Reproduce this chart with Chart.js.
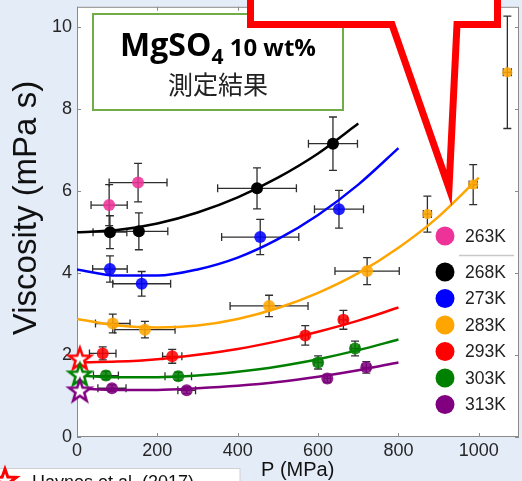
<!DOCTYPE html>
<html>
<head>
<meta charset="utf-8">
<script src="https://cdn.jsdelivr.net/npm/chart.js"></script>
<style>
  html, body { margin: 0; padding: 0; background: #e4ecf8; overflow: hidden; }
</style>
</head>
<body>
<canvas id="chart" width="522" height="481"></canvas>
<script>
"use strict"
// measured points, one row per temperature
let temps = ['263K', '268K', '273K', '283K', '293K', '303K', '313K'];
let colors = ['#ee3398', '#000000', '#0000ff', '#ffa500', '#ff0000', '#008000', '#800080'];
let pressure = [
    [80, 152],
    [82, 154, 448, 637],
    [82, 161, 456, 652],
    [89, 169, 478, 722, 872, 986, 1071],
    [64, 237, 568, 663],
    [72, 252, 600, 692],
    [87, 273, 623, 720]
];
let viscosity = [
    [5.66, 6.21],
    [5.0, 5.02, 6.07, 7.16],
    [4.1, 3.74, 4.88, 5.56],
    [2.77, 2.62, 3.2, 4.05, 5.44, 6.16, 8.9],
    [2.04, 1.97, 2.48, 2.86],
    [1.5, 1.48, 1.82, 2.16],
    [1.19, 1.14, 1.43, 1.7]
];
let pressureErr = [
    [45, 72],
    [42, 72, 98, 61],
    [43, 72, 96, 61],
    [43, 75, 97, 80, 10, 10, 10],
    [33, 24, 8, 10],
    [31, 33, 10, 10],
    [35, 22, 8, 10]
];
let viscosityErr = [
    [0.5, 0.47],
    [0.4, 0.45, 0.5, 0.65],
    [0.32, 0.3, 0.43, 0.46],
    [0.23, 0.2, 0.26, 0.33, 0.44, 0.49, 1.37],
    [0.16, 0.17, 0.24, 0.23],
    [0.1, 0.1, 0.16, 0.18],
    [0.08, 0.08, 0.1, 0.14]
];
// fitted curves (no fit for 263K)
let fitPressure = [
    null,
    [0, 100, 200, 300, 400, 500, 600, 700],
    [0, 100, 200, 300, 400, 500, 600, 700, 800],
    [0, 100, 200, 300, 400, 500, 600, 700, 800, 900, 1000],
    [0, 100, 200, 300, 400, 500, 600, 700, 800],
    [0, 100, 200, 300, 400, 500, 600, 700, 800],
    [0, 100, 200, 300, 400, 500, 600, 700, 800]
];
let fitViscosity = [
    null,
    [5.0, 5.05, 5.21, 5.48, 5.85, 6.33, 6.92, 7.65],
    [4.09, 3.94, 3.94, 4.09, 4.38, 4.83, 5.42, 6.16, 7.05],
    [2.88, 2.72, 2.67, 2.72, 2.88, 3.15, 3.52, 4.0, 4.62, 5.38, 6.33],
    [1.82, 1.84, 1.9, 2.01, 2.15, 2.34, 2.57, 2.84, 3.16],
    [1.5, 1.46, 1.46, 1.5, 1.59, 1.72, 1.9, 2.12, 2.38],
    [1.19, 1.15, 1.15, 1.19, 1.25, 1.34, 1.47, 1.63, 1.82]
];
// Haynes et al. (2017) reference values at ~0 MPa
let refPressure = 7;
let refViscosity = [1.92, 1.53, 1.14];
let refColors = ['#ff0000', '#008000', '#800080'];
let xTicks = [0, 200, 400, 600, 800, 1000];
let yTicks = [0, 2, 4, 6, 8, 10];

function starPath(c, cx, cy, R, r) {
    c.beginPath();
    for (let k = 0; k < 10; k++) {
        let rad = k % 2 ? r : R;
        let a = -Math.PI / 2 + k * Math.PI / 5;
        c.lineTo(cx + rad * Math.cos(a), cy + rad * Math.sin(a));
    }
    c.closePath();
}
function starImage(color) {
    let cv = document.createElement('canvas');
    cv.width = 30; cv.height = 30;
    let c = cv.getContext('2d');
    starPath(c, 15, 16, 11.5, 4.6);
    c.fillStyle = '#fff';
    c.fill();
    c.lineWidth = 2.5;
    c.strokeStyle = color;
    c.stroke();
    return cv;
}

let datasets = [];
for (let i = 0; i < temps.length; i++) {
    if (fitViscosity[i]) {
        datasets.push({
            type: 'line',
            label: temps[i] + ' fit',
            data: fitPressure[i].map((p, k) => ({ x: p, y: fitViscosity[i][k] })),
            borderColor: colors[i],
            borderWidth: 2.5,
            pointRadius: 0,
            showLine: true,
            fill: false,
            cubicInterpolationMode: 'monotone',
            order: 3
        });
    }
    datasets.push({
        label: temps[i],
        data: pressure[i].map((p, k) => ({ x: p, y: viscosity[i][k] })),
        xErr: pressureErr[i],
        yErr: viscosityErr[i],
        backgroundColor: i == 1 ? colors[i] : colors[i] + 'dd',
        borderWidth: 0,
        pointRadius: ctx => (ctx.raw && ctx.raw.x > 850) ? 5 : 6,
        order: 2
    });
}
datasets.push({
    label: 'Haynes et al. (2017)',
    data: refViscosity.map(v => ({ x: refPressure, y: v })),
    pointStyle: refColors.map(starImage),
    pointRadius: 12,
    clip: false,
    order: 1
});

let background = {
    id: 'background',
    beforeDraw(chart) {
        let { ctx, chartArea: a } = chart;
        ctx.save();
        ctx.fillStyle = '#e4ecf8';
        ctx.fillRect(0, 0, chart.width, chart.height);
        ctx.fillStyle = '#ffffff';
        ctx.fillRect(a.left, a.top, a.right - a.left, a.bottom - a.top);
        ctx.restore();
    }
};

let errorBars = {
    id: 'errorBars',
    beforeDatasetsDraw(chart) {
        let { ctx, chartArea: a } = chart;
        let xs = chart.scales.x, ys = chart.scales.y;
        ctx.save();
        // frame with inward ticks
        ctx.strokeStyle = '#8a8a8a';
        ctx.lineWidth = 1;
        ctx.beginPath();
        xTicks.forEach(v => {
            let px = Math.round(xs.getPixelForValue(v)) + 0.5;
            ctx.moveTo(px, a.bottom); ctx.lineTo(px, a.bottom - 4);
            ctx.moveTo(px, a.top); ctx.lineTo(px, a.top + 4);
        });
        yTicks.forEach(v => {
            let py = Math.round(ys.getPixelForValue(v)) + 0.5;
            ctx.moveTo(a.left, py); ctx.lineTo(a.left + 4, py);
            ctx.moveTo(a.right, py); ctx.lineTo(a.right - 4, py);
        });
        ctx.stroke();
        ctx.strokeRect(a.left + 0.5, a.top + 0.5, a.right - a.left - 1, a.bottom - a.top - 1);

        ctx.strokeStyle = '#2e2e2e';
        ctx.lineWidth = 1.3;
        chart.data.datasets.forEach(ds => {
            if (!ds.yErr) return;
            ds.data.forEach((d, j) => {
                let cx = xs.getPixelForValue(d.x), cy = ys.getPixelForValue(d.y);
                let x0 = xs.getPixelForValue(d.x - ds.xErr[j]), x1 = xs.getPixelForValue(d.x + ds.xErr[j]);
                let y0 = ys.getPixelForValue(d.y - ds.yErr[j]), y1 = ys.getPixelForValue(d.y + ds.yErr[j]);
                ctx.beginPath();
                ctx.moveTo(x0, cy); ctx.lineTo(x1, cy);
                ctx.moveTo(x0, cy - 4); ctx.lineTo(x0, cy + 4);
                ctx.moveTo(x1, cy - 4); ctx.lineTo(x1, cy + 4);
                ctx.moveTo(cx, y0); ctx.lineTo(cx, y1);
                ctx.moveTo(cx - 4, y0); ctx.lineTo(cx + 4, y0);
                ctx.moveTo(cx - 4, y1); ctx.lineTo(cx + 4, y1);
                ctx.stroke();
            });
        });
        ctx.restore();
    }
};

let notes = {
    id: 'notes',
    afterDraw(chart) {
        let ctx = chart.ctx;
        ctx.save();
        // axis titles
        ctx.fillStyle = '#111';
        ctx.font = '33px "Liberation Sans"';
        ctx.textAlign = 'center';
        ctx.textBaseline = 'alphabetic';
        ctx.save();
        ctx.translate(36, 208);
        ctx.rotate(-Math.PI / 2);
        ctx.fillText('Viscosity (mPa s)', 0, 0);
        ctx.restore();
        ctx.font = '20px "Liberation Sans"';
        ctx.textAlign = 'left';
        ctx.fillText('P (MPa)', 261, 476);

        // green title box
        ctx.fillStyle = '#fff';
        ctx.fillRect(93, 14, 250, 96);
        ctx.strokeStyle = '#70ad47';
        ctx.lineWidth = 2;
        ctx.strokeRect(93, 14, 250, 96);
        ctx.fillStyle = '#000';
        let f1 = 'bold 32px "Open Sans"', f2 = 'bold 21px "Open Sans"', f3 = 'bold 24px "Open Sans"';
        ctx.font = f1; let w1 = ctx.measureText('MgSO').width;
        ctx.font = f2; let w2 = ctx.measureText('4').width;
        ctx.font = f3; let w3 = ctx.measureText(' 10 wt%').width;
        let sx = 218 - (w1 + w2 + w3) / 2;
        ctx.font = f1; ctx.fillText('MgSO', sx, 56);
        ctx.font = f2; ctx.fillText('4', sx + w1, 64);
        ctx.font = f3; ctx.fillText(' 10 wt%', sx + w1 + w2, 56);
        ctx.font = '25px "Noto Sans CJK JP"';
        ctx.textAlign = 'center';
        ctx.fillStyle = '#222';
        ctx.fillText('測定結果', 218, 94);

        // red callout
        ctx.beginPath();
        ctx.moveTo(250.5, -20);
        ctx.lineTo(250.5, 24.5);
        ctx.lineTo(392, 24.5);
        ctx.lineTo(449, 188);
        ctx.lineTo(457, 24.5);
        ctx.lineTo(497.5, 24.5);
        ctx.lineTo(497.5, -20);
        ctx.closePath();
        ctx.fillStyle = '#fff';
        ctx.fill();
        ctx.strokeStyle = '#ff0000';
        ctx.lineWidth = 7;
        ctx.lineJoin = 'miter';
        ctx.miterLimit = 10;
        ctx.stroke();

        // temperature legend
        ctx.textAlign = 'left';
        ctx.textBaseline = 'middle';
        ctx.font = '17.5px "Liberation Sans"';
        let ly = [236, 272, 298.5, 325, 351.5, 378, 404.5];
        temps.forEach((t, i) => {
            ctx.beginPath();
            ctx.arc(445, ly[i], 9.5, 0, Math.PI * 2);
            ctx.fillStyle = colors[i];
            ctx.fill();
            ctx.fillStyle = '#222';
            ctx.fillText(t, 465, ly[i] + 1);
        });
        ctx.strokeStyle = '#c8c8c8';
        ctx.lineWidth = 1.5;
        ctx.beginPath();
        ctx.moveTo(459, 255.5); ctx.lineTo(514, 255.5);
        ctx.stroke();

        // Haynes legend
        ctx.fillStyle = '#fff';
        ctx.fillRect(0, 468, 240, 20);
        ctx.strokeStyle = '#d0d0d0';
        ctx.lineWidth = 1;
        ctx.strokeRect(-1, 468.5, 241, 20);
        starPath(ctx, 5, 481, 12, 4.8);
        ctx.fillStyle = '#fff';
        ctx.fill();
        ctx.strokeStyle = '#ff0000';
        ctx.lineWidth = 3;
        ctx.stroke();
        ctx.fillStyle = '#111';
        ctx.font = '18px "Liberation Sans"';
        ctx.textBaseline = 'alphabetic';
        ctx.fillText('Haynes et al. (2017)', 32, 488);
        ctx.restore();
    }
};

let chartCtx = document.getElementById('chart').getContext('2d');
let myChart = new Chart(chartCtx, {
    type: 'scatter',
    data: { datasets: datasets },
    options: {
        responsive: false,
        animation: false,
        devicePixelRatio: 1,
        layout: { autoPadding: false, padding: { top: 4, right: 3, left: 0, bottom: 0 } },
        plugins: { legend: { display: false }, tooltip: { enabled: false } },
        scales: {
            x: {
                type: 'linear', min: 0, max: 1100,
                afterBuildTicks: s => { s.ticks = xTicks.map(v => ({ value: v })); },
                afterFit: s => { s.height = 44; },
                grid: { display: false, drawTicks: false },
                border: { display: false },
                ticks: { padding: 3, color: '#262626', font: { family: 'Liberation Sans', size: 18 }, maxRotation: 0, callback: v => String(v) }
            },
            y: {
                type: 'linear', min: 0, max: 10.5,
                afterBuildTicks: s => { s.ticks = yTicks.map(v => ({ value: v })); },
                afterFit: s => { s.width = 77; },
                grid: { display: false, drawTicks: false },
                border: { display: false },
                ticks: { padding: 5, color: '#262626', font: { family: 'Liberation Sans', size: 18, lineHeight: 0.2 }, callback: v => String(v) }
            }
        }
    },
    plugins: [background, errorBars, notes]
});
</script>
</body>
</html>
